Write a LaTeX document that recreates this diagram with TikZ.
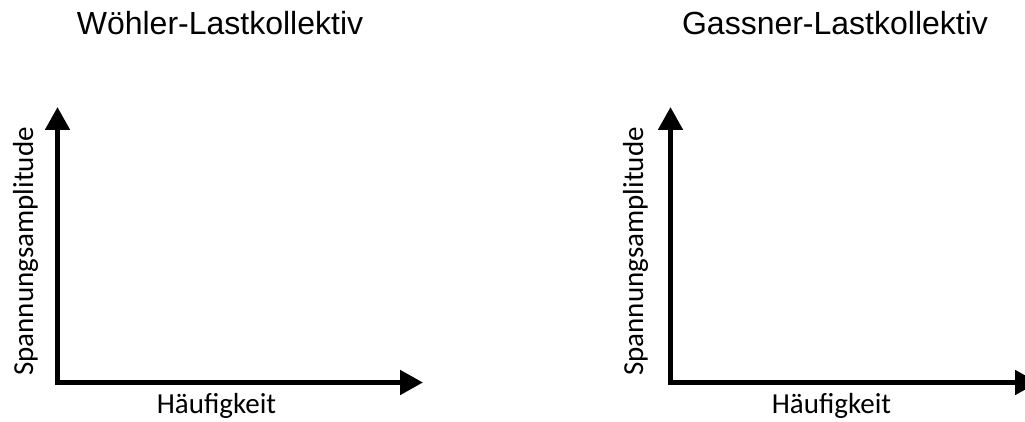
\documentclass[tikz,border=0pt]{standalone}
\usepackage{fontspec}
\setmainfont{Liberation Sans}
\newfontfamily\calib{Carlito}
\usetikzlibrary{arrows.meta}
\tikzset{
  axis/.style={line width=5pt, -{Triangle[length=23pt,width=24pt]}},
  titlelbl/.style={anchor=base, inner sep=0pt, font=\fontsize{32}{36}\selectfont},
  axlbl/.style={anchor=base, inner sep=0pt, font=\calib\fontsize{29}{33}\selectfont},
}
\begin{document}
\begin{tikzpicture}[x=1pt,y=1pt]
\path[use as bounding box] (0,0) rectangle (1025,421);
% left plot
\coordinate (o1) at (57.5,36);
\coordinate (y1) at (57.5,314);
\coordinate (s1) at (55,38.5);
\coordinate (x1) at (423,38.5);
\draw[axis] (o1) -- (y1);
\draw[axis] (s1) -- (x1);
\node[titlelbl] (t1) at (220,386) {Wöhler-Lastkollektiv};
\node[axlbl, rotate=90] (v1) at (33,169.5) {Spannungsamplitude};
\node[axlbl] (h1) at (216.5,8) {Häufigkeit};
% right plot
\coordinate (o2) at (670.5,36);
\coordinate (y2) at (670.5,314);
\coordinate (s2) at (668,38.5);
\coordinate (x2) at (1038,38.5);
\draw[axis] (o2) -- (y2);
\draw[axis] (s2) -- (x2);
\node[titlelbl] (t2) at (835,386) {Gassner-Lastkollektiv};
\node[axlbl, rotate=90] (v2) at (643,169.5) {Spannungsamplitude};
\node[axlbl] (h2) at (831.5,8) {Häufigkeit};
\end{tikzpicture}
\end{document}
